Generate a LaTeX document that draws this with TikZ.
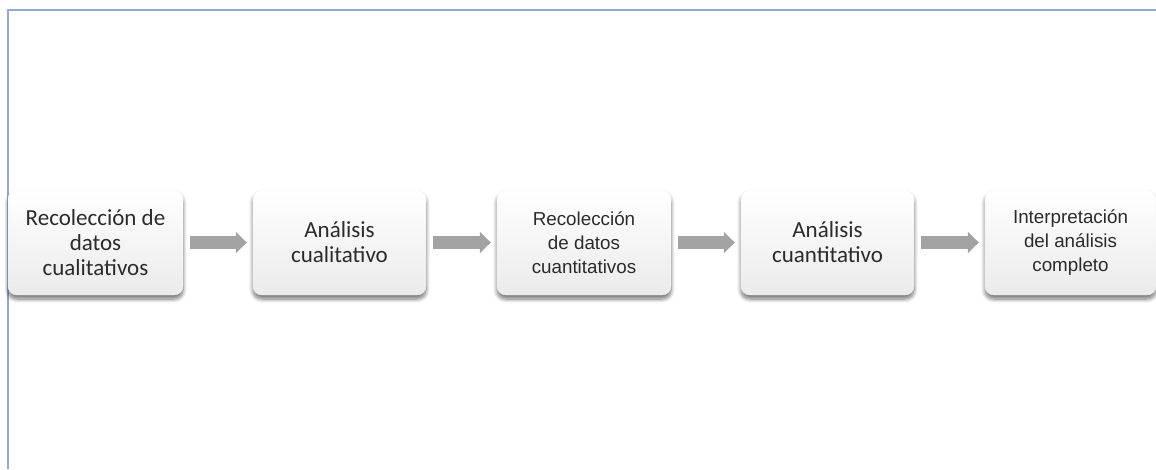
\documentclass[tikz,border=0pt]{standalone}
\usepackage{fontspec}
\newfontfamily\calfont{Carlito}
\newfontfamily\arfont{Liberation Sans}
\usetikzlibrary{shadows.blur,arrows.meta}
\definecolor{framecol}{HTML}{8EA9DB}
\definecolor{arrowcol}{HTML}{A3A3A3}
\definecolor{textcol}{HTML}{2B2B2B}

\begin{document}
\begin{tikzpicture}[x=1pt, y=-1pt,
  stage/.style={rounded corners=9pt, minimum height=105pt, align=center,
    top color=white, bottom color=black!8, draw=black!5, text=textcol,
    blur shadow={shadow xshift=0pt, shadow yshift=-4pt, shadow blur radius=4pt,
      shadow blur steps=8, shadow opacity=55}},
  calbox/.style={stage, font=\calfont\fontsize{23}{25}\selectfont},
  arbox/.style={stage, font=\arfont\fontsize{18.8}{24}\selectfont},
  flow/.style={draw=arrowcol, line width=13pt, shorten <=7pt, shorten >=6pt,
    -{Triangle[length=11pt, width=21pt]}}]
\useasboundingbox (0, 0) rectangle (1156, 469);
\draw[framecol, line width=1.5pt] (8, 469) -- (8, 10) -- (1160, 10);
\node[calbox, minimum width=175pt] (datoscual) at (95.5, 242.5) {Recolección de\\datos\\cualitativos};
\node[calbox, minimum width=173pt] (analcual) at (339.5, 242.5) {Análisis\\cualitativo};
\node[arbox, minimum width=174pt] (datoscuan) at (584, 242.5) {Recolección\\de datos\\cuantitativos};
\node[calbox, minimum width=173pt] (analcuan) at (827.5, 242.5) {Análisis\\cuantitativo};
\node[arbox, minimum width=171pt] (interp) at (1070.5, 242.5) {Interpretación\\del análisis\\completo};
\draw[flow] (datoscual.east) -- (analcual.west);
\draw[flow] (analcual.east) -- (datoscuan.west);
\draw[flow] (datoscuan.east) -- (analcuan.west);
\draw[flow] (analcuan.east) -- (interp.west);
\end{tikzpicture}
\end{document}
